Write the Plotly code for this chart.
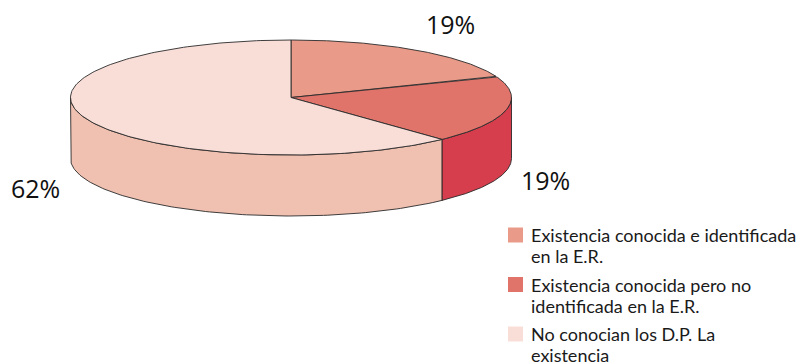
import numpy as np
import plotly.graph_objects as go

# Survey shares (percent), clockwise from 12 o'clock
categories = [
    "Existencia conocida e identificada en la E.R.",
    "Existencia conocida pero no identificada en la E.R.",
    "No conocian los D.P. La existencia",
]
values = [19, 19, 62]
legend_lines = [
    ["Existencia conocida e identificada", "en la E.R."],
    ["Existencia conocida pero no", "identificada en la E.R."],
    ["No conocian los D.P. La", "existencia"],
]
top_colors = ["#E99A89", "#E0746A", "#F9DED8"]
side_colors = ["#D9806F", "#D63D4D", "#F0C0B0"]

# Pie geometry in pixel space (axes map 1:1 to the canvas)
W, H = 805, 364
CX, CY, RX, RY, DEPTH = 291, 97.5, 220.5, 57.5, 61
EDGE = dict(color="#2a2a2a", width=0.9)


def ellipse(t, dz=0.0):
    return CX + RX * np.sin(t), CY - RY * np.cos(t) + dz


fractions = np.array(values, dtype=float) / sum(values)
ends = np.cumsum(fractions) * 2 * np.pi
starts = np.concatenate([[0.0], ends[:-1]])

fig = go.Figure()

# Side walls: only the front half of the cylinder (pi/2 .. 3pi/2) is visible
for i in range(len(values)):
    a = max(starts[i], np.pi / 2)
    b = min(ends[i], 3 * np.pi / 2)
    if a >= b:
        continue
    ts = np.linspace(a, b, 120)
    xt, yt = ellipse(ts)
    xb, yb = ellipse(ts[::-1], DEPTH)
    fig.add_trace(go.Scatter(
        x=np.concatenate([xt, xb, xt[:1]]),
        y=np.concatenate([yt, yb, yt[:1]]),
        mode="lines", fill="toself", fillcolor=side_colors[i],
        line=EDGE, hoverinfo="skip", showlegend=False,
    ))

# Top faces
for i in range(len(values)):
    ts = np.linspace(starts[i], ends[i], 200)
    xa, ya = ellipse(ts)
    fig.add_trace(go.Scatter(
        x=np.concatenate([[CX], xa, [CX]]),
        y=np.concatenate([[CY], ya, [CY]]),
        mode="lines", fill="toself", fillcolor=top_colors[i],
        line=EDGE, hoverinfo="skip", showlegend=False,
        name=categories[i],
    ))

# Percentage labels
label_pos = [(450, 24), (545, 180), (35, 188)]
for v, (lx, ly) in zip(values, label_pos):
    fig.add_annotation(x=lx, y=ly, text=f"{v}%", showarrow=False,
                       xanchor="center", yanchor="middle",
                       font=dict(family="Open Sans", size=25, color="#111111"))

# Legend: swatch + two text lines per entry
LEG_X, LEG_Y0, LEG_STEP, SW, LINE = 508, 227.5, 49.5, 15, 21.3
for i, lines in enumerate(legend_lines):
    y0 = LEG_Y0 + i * LEG_STEP
    fig.add_shape(type="rect", x0=LEG_X, x1=LEG_X + SW, y0=y0, y1=y0 + SW,
                  fillcolor=top_colors[i], line=dict(width=0))
    for j, txt in enumerate(lines):
        fig.add_annotation(x=LEG_X + 21, y=y0 + 7.5 + j * LINE, text=txt,
                           showarrow=False, xanchor="left", yanchor="middle",
                           font=dict(family="Lato", size=18, color="#1a1a1a"))

fig.update_xaxes(range=[0, W], visible=False, fixedrange=True)
fig.update_yaxes(range=[H, 0], visible=False, fixedrange=True)
fig.update_layout(width=W, height=H, margin=dict(l=0, r=0, t=0, b=0),
                  paper_bgcolor="white", plot_bgcolor="white",
                  showlegend=False)

fig.write_html("out.html")
